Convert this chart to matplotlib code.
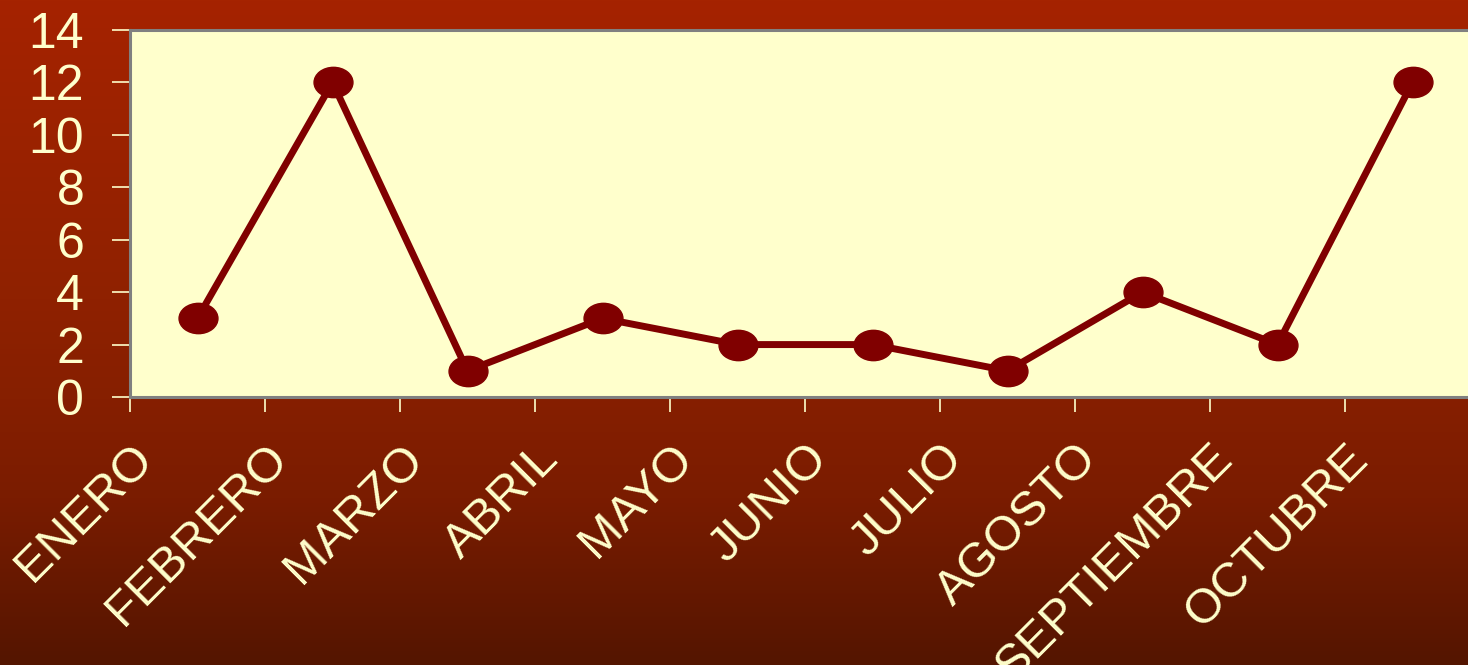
import numpy as np
import matplotlib
matplotlib.use('Agg')
import matplotlib.pyplot as plt
import matplotlib.transforms as mtransforms
from matplotlib.path import Path

# months shown on the category axis and the counts per month
months = ['ENERO', 'FEBRERO', 'MARZO', 'ABRIL', 'MAYO',
          'JUNIO', 'JULIO', 'AGOSTO', 'SEPTIEMBRE', 'OCTUBRE']
values = [3, 12, 1, 3, 2, 2, 1, 4, 2, 12]
yticks = [0, 2, 4, 6, 8, 10, 12, 14]

plt.rcParams['font.family'] = ['Liberation Sans', 'DejaVu Sans']
txt = '#FFFFCC'
line_col = '#800000'

fig = plt.figure(figsize=(14.68, 6.65), dpi=100)

# dark red gradient behind everything
bg = fig.add_axes([0, 0, 1, 1], zorder=-10)
stops = [0.0, 0.45, 0.6, 0.75, 1.0]
reds = [165, 143, 134, 122, 84]
greens = [35, 33, 31, 28, 21]
yy = np.linspace(0, 1, 400)
grad = np.zeros((400, 1, 3))
grad[:, 0, 0] = np.interp(yy, stops, reds) / 255
grad[:, 0, 1] = np.interp(yy, stops, greens) / 255
bg.imshow(grad, aspect='auto', extent=[0, 1, 0, 1])
bg.axis('off')

ax = fig.add_axes([130 / 1468, 268 / 665, 1350 / 1468, 367 / 665])
ax.set_facecolor('#FFFFCC')
for s in ax.spines.values():
    s.set_color('#808080')
    s.set_linewidth(2.2)

ell = Path.unit_circle().transformed(mtransforms.Affine2D().scale(1.0, 0.78))
x = np.arange(len(values))
ax.plot(x, values, color=line_col, linewidth=5, marker=ell,
        markersize=28, markerfacecolor=line_col, markeredgecolor=line_col,
        clip_on=False, zorder=3)

ax.set_xlim(-0.5, len(values) - 0.5)
ax.set_ylim(0, 14)
ax.set_yticks(yticks)
ax.set_xticks(x - 0.5)
ax.set_xticklabels(months, rotation=45, ha='right', va='top')

ax.tick_params(axis='y', colors=txt, labelsize=36, length=13, width=1.2,
               pad=20, direction='out')
ax.tick_params(axis='x', colors=txt, labelsize=35, length=11, width=1.2,
               pad=17, direction='out')

offset = mtransforms.ScaledTranslation(32 / 100, 0, fig.dpi_scale_trans)
for lab in ax.get_xticklabels():
    lab.set_transform(lab.get_transform() + offset)

plt.savefig('out.png', dpi=100)
